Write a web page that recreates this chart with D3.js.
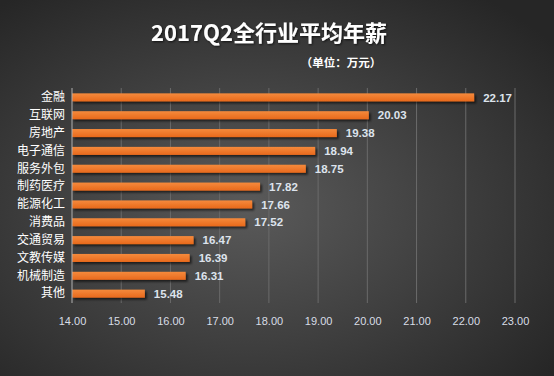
<!DOCTYPE html>
<html>
<head>
<meta charset="utf-8">
<script src="https://cdn.jsdelivr.net/npm/d3@7"></script>
<style>
  body { margin: 0; background: #333; }
  #vis { width: 554px; height: 376px; }
  text { font-family: "Noto Sans CJK SC", "Open Sans", sans-serif; }
</style>
</head>
<body>
<div id="vis"></div>
<script>
const categories = ['金融', '互联网', '房地产', '电子通信', '服务外包', '制药医疗', '能源化工', '消费品', '交通贸易', '文教传媒', '机械制造', '其他'];
const salaries = [22.17, 20.03, 19.38, 18.94, 18.75, 17.82, 17.66, 17.52, 16.47, 16.39, 16.31, 15.48];
const tickValues = [14, 15, 16, 17, 18, 19, 20, 21, 22, 23];

const width = 554, height = 376;
const margin = {top: 88, right: 39, bottom: 73, left: 72};

const svg = d3.select('#vis').append('svg')
  .attr('width', width)
  .attr('height', height);

// background
const defs = svg.append('defs');
const bg = defs.append('radialGradient').attr('id', 'bg')
  .attr('cx', '45%').attr('cy', '55%').attr('r', '70%');
bg.append('stop').attr('offset', '0%').attr('stop-color', '#5a5a5a');
bg.append('stop').attr('offset', '100%').attr('stop-color', '#262626');

const barGrad = defs.append('linearGradient').attr('id', 'barGrad')
  .attr('x1', 0).attr('y1', 0).attr('x2', 0).attr('y2', 1);
barGrad.append('stop').attr('offset', '0%').attr('stop-color', '#f58a3c');
barGrad.append('stop').attr('offset', '100%').attr('stop-color', '#e8691c');

const shadow = defs.append('filter').attr('id', 'shadow')
  .attr('x', '-5%').attr('y', '-50%').attr('width', '115%').attr('height', '250%');
shadow.append('feDropShadow').attr('dx', 2).attr('dy', 2).attr('stdDeviation', 1.2)
  .attr('flood-color', '#000').attr('flood-opacity', 0.6);

const textShadow = defs.append('filter').attr('id', 'textShadow');
textShadow.append('feDropShadow').attr('dx', 1).attr('dy', 1).attr('stdDeviation', 0.8)
  .attr('flood-color', '#000').attr('flood-opacity', 0.7);

svg.append('rect').attr('width', width).attr('height', height).attr('fill', 'url(#bg)');

// scales
const xScale = d3.scaleLinear().domain([14, 23]).range([margin.left, width - margin.right]);
const yScale = d3.scaleBand().domain(categories)
  .range([margin.top, height - margin.bottom]).paddingInner(0.55).paddingOuter(0.3);

// grid
svg.append('g')
  .selectAll('line')
  .data(tickValues.slice(1))
  .enter()
  .append('line')
  .attr('x1', d => xScale(d)).attr('x2', d => xScale(d))
  .attr('y1', margin.top).attr('y2', height - margin.bottom)
  .attr('stroke', '#6a6a6a').attr('stroke-width', 1);

// x axis labels
const xAxis = svg.append('g')
  .attr('transform', 'translate(0,' + (height - margin.bottom) + ')')
  .call(d3.axisBottom(xScale).tickValues(tickValues).tickFormat(d3.format('.2f')).tickSize(0).tickPadding(14));
xAxis.select('.domain').remove();
xAxis.selectAll('text').attr('fill', '#d8dde6').style('font-size', '11px')
  .style('font-family', '"Liberation Sans", sans-serif');

// bars
svg.append('g')
  .selectAll('rect.bar')
  .data(salaries)
  .enter()
  .append('rect')
  .attr('class', 'bar')
  .attr('x', xScale(14))
  .attr('y', (d, i) => yScale(categories[i]))
  .attr('width', d => xScale(d) - xScale(14))
  .attr('height', yScale.bandwidth())
  .attr('fill', 'url(#barGrad)')
  .attr('filter', 'url(#shadow)');

// y axis line
svg.append('line')
  .attr('x1', margin.left).attr('x2', margin.left)
  .attr('y1', margin.top).attr('y2', height - margin.bottom)
  .attr('stroke', '#b0b0b0').attr('stroke-width', 1);

// category labels
const yAxis = svg.append('g')
  .attr('transform', 'translate(' + margin.left + ',0)')
  .call(d3.axisLeft(yScale).tickSize(0).tickPadding(7));
yAxis.select('.domain').remove();
yAxis.selectAll('text').attr('fill', '#ffffff').style('font-size', '12px');

// value labels
svg.append('g')
  .selectAll('text')
  .data(salaries)
  .enter()
  .append('text')
  .attr('x', d => xScale(d) + 9)
  .attr('y', (d, i) => yScale(categories[i]) + yScale.bandwidth() / 2)
  .attr('dy', '0.36em')
  .attr('fill', '#dde3ec')
  .style('font-size', '11.5px')
  .style('font-weight', 'bold')
  .style('font-family', '"Liberation Sans", sans-serif')
  .text(d => d.toFixed(2));

// title
svg.append('text')
  .attr('x', 269).attr('y', 41)
  .attr('text-anchor', 'middle')
  .attr('fill', '#ffffff')
  .attr('filter', 'url(#textShadow)')
  .style('font-size', '22px')
  .style('font-weight', 'bold')
  .text('2017Q2全行业平均年薪');

svg.append('text')
  .attr('x', 341).attr('y', 67)
  .attr('text-anchor', 'middle')
  .attr('fill', '#ffffff')
  .style('font-size', '11.5px')
  .style('font-weight', 'bold')
  .text('（单位：万元）');
</script>
</body>
</html>
